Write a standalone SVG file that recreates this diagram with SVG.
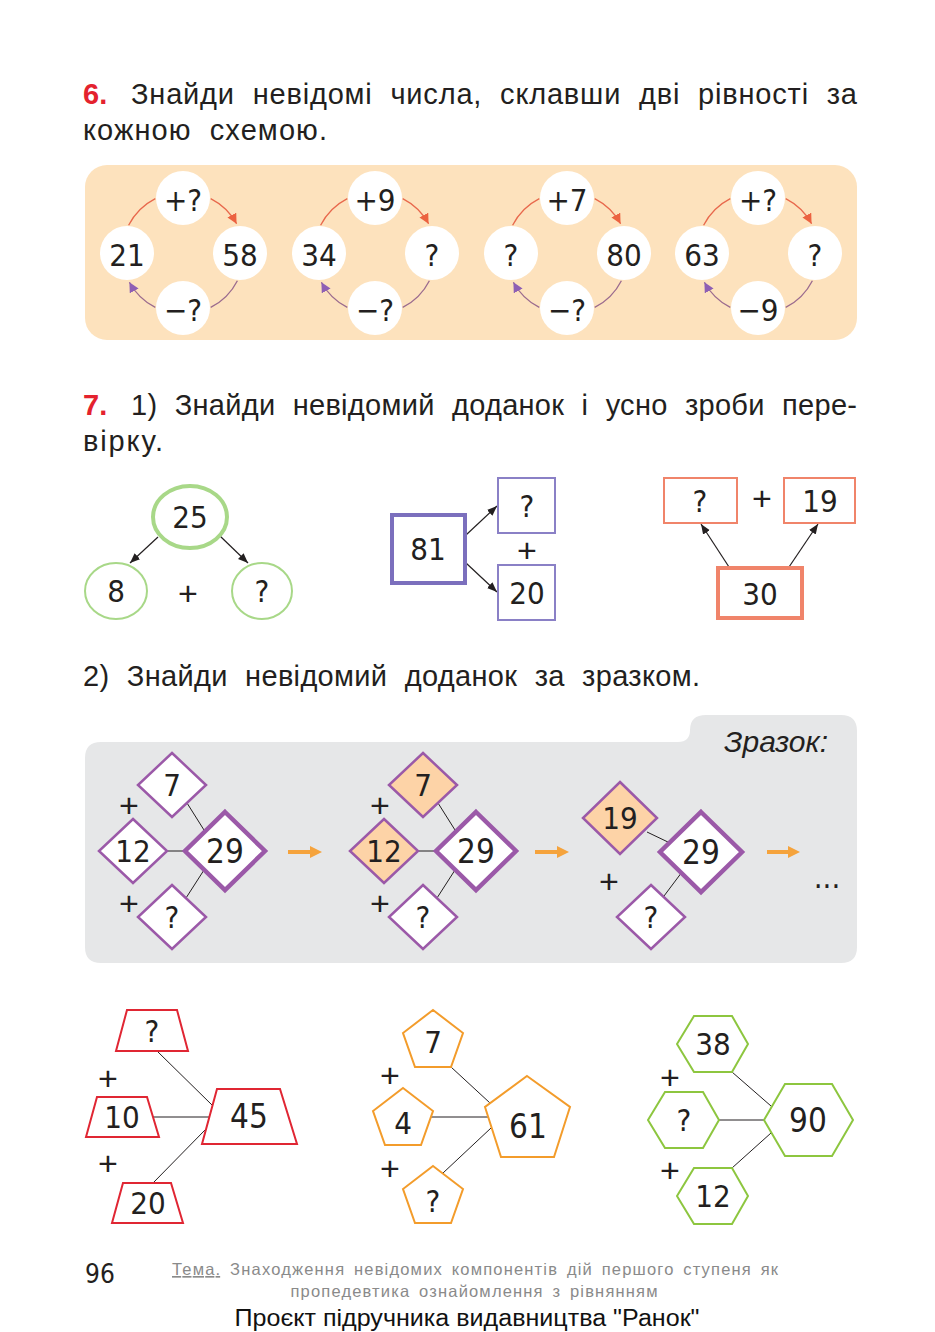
<svg xmlns="http://www.w3.org/2000/svg" width="935" height="1332" viewBox="0 0 935 1332">
<style>
.t{font-family:"Liberation Sans","DejaVu Sans",sans-serif;font-size:29px;fill:#231f20;word-spacing:9px}
.red{fill:#e4222e;font-weight:bold}
.n{font-family:"Liberation Sans Narrow","DejaVu Sans Condensed","Liberation Sans",sans-serif;font-size:31px;fill:#231f20;text-anchor:middle}
.nb{font-size:33px}
.pl{font-family:"Liberation Sans","DejaVu Sans",sans-serif;font-size:34px;fill:#231f20;text-anchor:middle}
.wc{fill:#fff}
.arcR{fill:none;stroke:#e8684c;stroke-width:1.3}
.arcP{fill:none;stroke:#9b6b8e;stroke-width:1.3}
.blk{fill:none;stroke:#231f20;stroke-width:1.2}
.ln{fill:none;stroke:#231f20;stroke-width:1}
.dia{fill:#fff;stroke:#9b59a8;stroke-width:2.5}
.diab{fill:#fff;stroke:#9b59a8;stroke-width:4.5}
.peach{fill:#fdd3a7}
.oar{fill:none;stroke:#f5a33c;stroke-width:4}
.trap{fill:#fff;stroke:#e02633;stroke-width:2}
.pent{fill:#fff;stroke:#f39c2b;stroke-width:2}
.hex{fill:#fff;stroke:#8dc63f;stroke-width:2}
.foot{font-family:"Liberation Sans","DejaVu Sans",sans-serif;font-size:16.5px;fill:#8a8a8a;word-spacing:3px}
</style>
<defs>
<marker id="mR" markerUnits="userSpaceOnUse" markerWidth="12" markerHeight="12" refX="10" refY="5" orient="auto"><path d="M0,0 L10,5 L0,10 z" fill="#ec6240"/></marker>
<marker id="mP" markerUnits="userSpaceOnUse" markerWidth="12" markerHeight="12" refX="10" refY="5" orient="auto"><path d="M0,0 L10,5 L0,10 z" fill="#8e5fb4"/></marker>
<marker id="mK" markerUnits="userSpaceOnUse" markerWidth="12" markerHeight="10" refX="10" refY="4" orient="auto"><path d="M0,0 L10,4 L0,8 z" fill="#231f20"/></marker>
<marker id="mO" markerUnits="userSpaceOnUse" markerWidth="16" markerHeight="14" refX="2" refY="6" orient="auto"><path d="M0,0 L12,6 L0,12 z" fill="#f5a33c"/></marker>
</defs>

<!-- Task 6 heading -->
<text class="t red" x="83" y="104">6.</text>
<text class="t" x="131" y="104" textLength="726" lengthAdjust="spacing">Знайди невідомі числа, склавши дві рівності за</text>
<text class="t" x="83" y="140" textLength="244" lengthAdjust="spacing">кожною схемою.</text>

<rect x="85" y="165" width="772" height="175" rx="22" fill="#fde2bd"/>

<g id="connectors">
  <g id="rings">
    <g transform="translate(183,253)">
      <path class="arcR" d="M-54.4,-27.7 A61,61 0 0 1 -27.7,-54.4"/>
      <path class="arcR" d="M27.7,-54.4 A61,61 0 0 1 53.6,-29.2" marker-end="url(#mR)"/>
      <path class="arcP" d="M54.4,27.7 A61,61 0 0 1 27.7,54.4"/>
      <path class="arcP" d="M-27.7,54.4 A61,61 0 0 1 -53.6,29.2" marker-end="url(#mP)"/>
    </g>
    <g transform="translate(375,253)">
      <path class="arcR" d="M-54.4,-27.7 A61,61 0 0 1 -27.7,-54.4"/>
      <path class="arcR" d="M27.7,-54.4 A61,61 0 0 1 53.6,-29.2" marker-end="url(#mR)"/>
      <path class="arcP" d="M54.4,27.7 A61,61 0 0 1 27.7,54.4"/>
      <path class="arcP" d="M-27.7,54.4 A61,61 0 0 1 -53.6,29.2" marker-end="url(#mP)"/>
    </g>
    <g transform="translate(567,253)">
      <path class="arcR" d="M-54.4,-27.7 A61,61 0 0 1 -27.7,-54.4"/>
      <path class="arcR" d="M27.7,-54.4 A61,61 0 0 1 53.6,-29.2" marker-end="url(#mR)"/>
      <path class="arcP" d="M54.4,27.7 A61,61 0 0 1 27.7,54.4"/>
      <path class="arcP" d="M-27.7,54.4 A61,61 0 0 1 -53.6,29.2" marker-end="url(#mP)"/>
    </g>
    <g transform="translate(758,253)">
      <path class="arcR" d="M-54.4,-27.7 A61,61 0 0 1 -27.7,-54.4"/>
      <path class="arcR" d="M27.7,-54.4 A61,61 0 0 1 53.6,-29.2" marker-end="url(#mR)"/>
      <path class="arcP" d="M54.4,27.7 A61,61 0 0 1 27.7,54.4"/>
      <path class="arcP" d="M-27.7,54.4 A61,61 0 0 1 -53.6,29.2" marker-end="url(#mP)"/>
    </g>
  </g>
  <g id="arrows71">
    <line class="blk" x1="158" y1="537" x2="130" y2="563" marker-end="url(#mK)"/>
    <line class="blk" x1="220" y1="536" x2="248" y2="563" marker-end="url(#mK)"/>
    <line class="blk" x1="466" y1="535" x2="497" y2="506" marker-end="url(#mK)"/>
    <line class="blk" x1="466" y1="563" x2="497" y2="592" marker-end="url(#mK)"/>
    <line class="blk" x1="729" y1="567" x2="701" y2="524" marker-end="url(#mK)"/>
    <line class="blk" x1="789" y1="567" x2="818" y2="524" marker-end="url(#mK)"/>
  </g>
</g>

<!-- scheme nodes -->
<g id="scheme1">
  <circle class="wc" cx="183" cy="198" r="27"/><text class="n" x="183" y="211">+?</text>
  <circle class="wc" cx="127" cy="253" r="27"/><text class="n" x="127" y="266">21</text>
  <circle class="wc" cx="240" cy="253" r="27"/><text class="n" x="240" y="266">58</text>
  <circle class="wc" cx="183" cy="308" r="27"/><text class="n" x="183" y="321">−?</text>
</g>
<g id="scheme2">
  <circle class="wc" cx="375" cy="198" r="27"/><text class="n" x="375" y="211">+9</text>
  <circle class="wc" cx="319" cy="253" r="27"/><text class="n" x="319" y="266">34</text>
  <circle class="wc" cx="432" cy="253" r="27"/><text class="n" x="432" y="266">?</text>
  <circle class="wc" cx="375" cy="308" r="27"/><text class="n" x="375" y="321">−?</text>
</g>
<g id="scheme3">
  <circle class="wc" cx="567" cy="198" r="27"/><text class="n" x="567" y="211">+7</text>
  <circle class="wc" cx="511" cy="253" r="27"/><text class="n" x="511" y="266">?</text>
  <circle class="wc" cx="624" cy="253" r="27"/><text class="n" x="624" y="266">80</text>
  <circle class="wc" cx="567" cy="308" r="27"/><text class="n" x="567" y="321">−?</text>
</g>
<g id="scheme4">
  <circle class="wc" cx="758" cy="198" r="27"/><text class="n" x="758" y="211">+?</text>
  <circle class="wc" cx="702" cy="253" r="27"/><text class="n" x="702" y="266">63</text>
  <circle class="wc" cx="815" cy="253" r="27"/><text class="n" x="815" y="266">?</text>
  <circle class="wc" cx="758" cy="308" r="27"/><text class="n" x="758" y="321">−9</text>
</g>

<!-- Task 7 heading -->
<text class="t red" x="83" y="415">7.</text>
<text class="t" x="131" y="415" textLength="726" lengthAdjust="spacing">1) Знайди невідомий доданок і усно зроби пере-</text>
<text class="t" x="83" y="451" textLength="80" lengthAdjust="spacing">вірку.</text>

<!-- 7.1 circles -->
<g id="c25"><ellipse cx="190" cy="517" rx="37" ry="31" fill="#fff" stroke="#a8d888" stroke-width="4"/><text class="n" x="190" y="528">25</text></g>
<g id="c8"><ellipse cx="116" cy="591" rx="31" ry="28" fill="#fff" stroke="#a8d888" stroke-width="2"/><text class="n" x="116" y="602">8</text></g>
<g id="cq"><ellipse cx="262" cy="591" rx="30" ry="28" fill="#fff" stroke="#a8d888" stroke-width="2"/><text class="n" x="262" y="602">?</text></g>
<text class="pl" x="188" y="605">+</text>

<!-- 7.1 purple squares -->
<g id="s81"><rect x="392" y="515" width="73" height="68" fill="#fff" stroke="#7b6fbd" stroke-width="4"/><text class="n" x="428" y="560">81</text></g>
<g id="sq"><rect x="498" y="478" width="57" height="55" fill="#fff" stroke="#8a80c6" stroke-width="2"/><text class="n" x="527" y="517">?</text></g>
<g id="s20"><rect x="498" y="565" width="57" height="55" fill="#fff" stroke="#8a80c6" stroke-width="2"/><text class="n" x="527" y="604">20</text></g>
<text class="pl" x="527" y="562">+</text>

<!-- 7.1 orange rects -->
<g id="rq"><rect x="664" y="478" width="73" height="45" fill="#fff" stroke="#f0846a" stroke-width="2"/><text class="n" x="700" y="512">?</text></g>
<g id="r19"><rect x="784" y="478" width="71" height="45" fill="#fff" stroke="#f0846a" stroke-width="2"/><text class="n" x="820" y="512">19</text></g>
<g id="r30"><rect x="718" y="568" width="84" height="50" fill="#fff" stroke="#f0846a" stroke-width="4"/><text class="n" x="760" y="605">30</text></g>
<text class="pl" x="762" y="510">+</text>

<text class="t" x="83" y="686" textLength="617" lengthAdjust="spacing">2) Знайди невідомий доданок за зразком.</text>

<!-- sample panel -->
<path d="M101,742 L678,742 Q690,742 690,730 Q690,715 706,715 L841,715 Q857,715 857,731 L857,947 Q857,963 841,963 L101,963 Q85,963 85,947 L85,758 Q85,742 101,742 Z" fill="#e6e7e8"/>
<text x="828" y="752" text-anchor="end" style="font-family:'Liberation Sans','DejaVu Sans',sans-serif;font-size:30px;font-style:italic;fill:#231f20">Зразок:</text>

<g id="sampleLines">
  <line class="ln" x1="187" y1="803" x2="204" y2="830"/>
  <line class="ln" x1="167" y1="851" x2="185" y2="851"/>
  <line class="ln" x1="204" y1="870" x2="186" y2="898"/>
  <line class="ln" x1="438" y1="803" x2="455" y2="830"/>
  <line class="ln" x1="418" y1="851" x2="436" y2="851"/>
  <line class="ln" x1="455" y1="870" x2="437" y2="898"/>
  <line class="ln" x1="647" y1="832" x2="670" y2="843"/>
  <line class="ln" x1="682" y1="872" x2="664" y2="896"/>
  <line class="oar" x1="288" y1="852" x2="312" y2="852" marker-end="url(#mO)"/>
  <line class="oar" x1="535" y1="852" x2="559" y2="852" marker-end="url(#mO)"/>
  <line class="oar" x1="767" y1="852" x2="790" y2="852" marker-end="url(#mO)"/>
</g>

<g id="d1_7"><polygon class="dia" points="172,753 206,785 172,817 138,785"/><text class="n" x="172" y="796">7</text></g>
<g id="d1_12"><polygon class="dia" points="133,819 167,851 133,883 99,851"/><text class="n" x="133" y="862">12</text></g>
<g id="d1_q"><polygon class="dia" points="172,885 206,917 172,949 138,917"/><text class="n" x="172" y="928">?</text></g>
<g id="d1_29"><polygon class="diab" points="225,812 265,851 225,890 185,851"/><text class="n nb" x="225" y="863">29</text></g>
<text class="pl" x="129" y="817">+</text>
<text class="pl" x="129" y="915">+</text>

<g id="d2_7"><polygon class="dia peach" points="423,753 457,785 423,817 389,785"/><text class="n" x="423" y="796">7</text></g>
<g id="d2_12"><polygon class="dia peach" points="384,819 418,851 384,883 350,851"/><text class="n" x="384" y="862">12</text></g>
<g id="d2_q"><polygon class="dia" points="423,885 457,917 423,949 389,917"/><text class="n" x="423" y="928">?</text></g>
<g id="d2_29"><polygon class="diab" points="476,812 516,851 476,890 436,851"/><text class="n nb" x="476" y="863">29</text></g>
<text class="pl" x="380" y="817">+</text>
<text class="pl" x="380" y="915">+</text>

<g id="d3_19"><polygon class="dia peach" points="620,782 657,818 620,854 583,818"/><text class="n" x="620" y="829">19</text></g>
<g id="d3_q"><polygon class="dia" points="651,885 685,917 651,949 617,917"/><text class="n" x="651" y="928">?</text></g>
<g id="d3_29"><polygon class="diab" points="701,812 742,852 701,892 660,852"/><text class="n nb" x="701" y="864">29</text></g>
<text class="pl" x="609" y="893">+</text>
<text class="n" x="827" y="888">...</text>

<!-- bottom connectors -->
<g id="bottomLines">
  <line class="ln" x1="157" y1="1051" x2="212" y2="1105"/>
  <line class="ln" x1="153" y1="1117" x2="209" y2="1117"/>
  <line class="ln" x1="153" y1="1183" x2="206" y2="1129"/>
  <line class="ln" x1="451" y1="1067" x2="490" y2="1103"/>
  <line class="ln" x1="431" y1="1117" x2="488" y2="1117"/>
  <line class="ln" x1="443" y1="1173" x2="491" y2="1128"/>
  <line class="ln" x1="732" y1="1072" x2="771" y2="1106"/>
  <line class="ln" x1="719" y1="1120" x2="764" y2="1120"/>
  <line class="ln" x1="732" y1="1168" x2="771" y2="1133"/>
</g>
<g id="t_q"><polygon class="trap" points="127,1010 177,1010 188,1051 116,1051"/><text class="n" x="152" y="1042">?</text></g>
<g id="t_10"><polygon class="trap" points="97,1097 147,1097 159,1137 86,1137"/><text class="n" x="122" y="1128">10</text></g>
<g id="t_20"><polygon class="trap" points="123,1183 171,1183 183,1223 112,1223"/><text class="n" x="148" y="1214">20</text></g>
<g id="t_45"><polygon class="trap" stroke-width="4.5" points="217,1089 280,1089 297,1144 202,1144"/><text class="n nb" x="249" y="1128">45</text></g>
<text class="pl" x="108" y="1090">+</text>
<text class="pl" x="108" y="1175">+</text>

<!-- pentagons -->
<g id="p_7"><polygon class="pent" points="433,1010 463,1033 451,1067 415,1067 403,1033"/><text class="n" x="433" y="1053">7</text></g>
<g id="p_4"><polygon class="pent" points="403,1088 433,1111 421,1145 385,1145 373,1111"/><text class="n" x="403" y="1134">4</text></g>
<g id="p_q"><polygon class="pent" points="433,1166 463,1189 451,1223 415,1223 403,1189"/><text class="n" x="433" y="1212">?</text></g>
<g id="p_61"><polygon class="pent" stroke-width="4.5" points="527,1076 570,1107 554,1157 501,1157 485,1107"/><text class="n nb" x="528" y="1138">61</text></g>
<text class="pl" x="390" y="1087">+</text>
<text class="pl" x="390" y="1180">+</text>

<!-- hexagons -->
<g id="h_38"><polygon class="hex" points="677,1044 694,1016 732,1016 748,1044 732,1072 694,1072"/><text class="n" x="713" y="1055">38</text></g>
<g id="h_q"><polygon class="hex" points="648,1120 665,1092 703,1092 719,1120 703,1148 665,1148"/><text class="n" x="684" y="1131">?</text></g>
<g id="h_12"><polygon class="hex" points="677,1196 694,1168 732,1168 748,1196 732,1224 694,1224"/><text class="n" x="713" y="1207">12</text></g>
<g id="h_90"><polygon class="hex" stroke-width="4.5" points="764,1120 785,1084 832,1084 853,1120 832,1156 785,1156"/><text class="n nb" x="808" y="1132">90</text></g>
<text class="pl" x="670" y="1089">+</text>
<text class="pl" x="670" y="1182">+</text>

<!-- footer -->
<text class="n" x="100" y="1283" style="font-size:26px">96</text>
<text class="foot" x="172" y="1275" textLength="606" lengthAdjust="spacing"><tspan text-decoration="underline">Тема.</tspan> Знаходження невідомих компонентів дій першого ступеня як</text>
<text class="foot" x="474" y="1297" text-anchor="middle" textLength="367" lengthAdjust="spacing">пропедевтика ознайомлення з рівнянням</text>
<text x="467" y="1326" text-anchor="middle" textLength="465" lengthAdjust="spacingAndGlyphs" style="font-family:'Liberation Sans','DejaVu Sans',sans-serif;font-size:23px;fill:#111">Проєкт підручника видавництва "Ранок"</text>
</svg>
